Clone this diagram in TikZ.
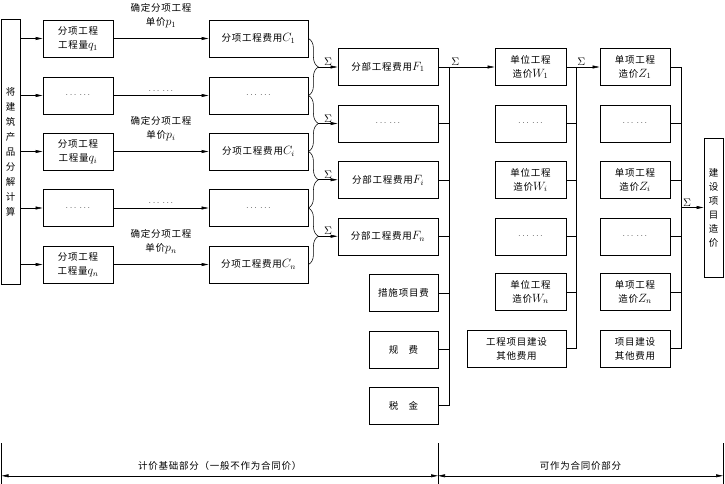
\documentclass[tikz,border=0pt]{standalone}
\usepackage{fontspec}
\setmainfont{Noto Sans CJK SC}[LetterSpace=8]
\usetikzlibrary{arrows.meta,decorations.pathreplacing,calc}
\newcommand{\mv}[1]{{\fontsize{12}{14}\selectfont$#1$}}
\newcommand{\dts}{$\ldots\,\ldots$}
\begin{document}
\begin{tikzpicture}[x=1pt,y=-1pt,
  txt/.style={font=\fontsize{9.5}{14}\selectfont, align=center, inner sep=1pt},
  box/.style={txt, draw, line width=0.9pt, inner sep=0pt, minimum height=37pt},
  vbox/.style={box, font=\fontsize{9.5}{15}\selectfont},
  ln/.style={line width=0.55pt},
  arr/.style={ln, -{Triangle[length=7pt,width=3pt]}},
  dimarr/.style={ln, {Triangle[length=7pt,width=3pt]}-{Triangle[length=7pt,width=3pt]}},
  sig/.style={font=\fontsize{11}{12}\selectfont, inner sep=1pt},
  brc/.style={ln, decorate, decoration={brace, amplitude=10pt}}]
\useasboundingbox (0,0) rectangle (725,484);

% left box
\node[vbox, minimum width=19pt, minimum height=265pt] (L) at (10.5,151.5) {将\\建\\筑\\产\\品\\分\\解\\计\\算};

% q boxes
\node[box, minimum width=70pt] (q1) at (78,38.5) {分项工程\\工程量\mv{q_1}};
\node[box, minimum width=70pt] (q2) at (78,95.5) {\dts};
\node[box, minimum width=70pt] (q3) at (78,151.5) {分项工程\\工程量\mv{q_i}};
\node[box, minimum width=70pt] (q4) at (78,208) {\dts};
\node[box, minimum width=70pt] (q5) at (78,264.5) {分项工程\\工程量\mv{q_n}};

% C boxes
\node[box, minimum width=99pt] (C1) at (258.5,38.5) {分项工程费用\mv{C_1}};
\node[box, minimum width=99pt] (C2) at (258.5,95.5) {\dts};
\node[box, minimum width=99pt] (C3) at (258.5,151.5) {分项工程费用\mv{C_i}};
\node[box, minimum width=99pt] (C4) at (258.5,208) {\dts};
\node[box, minimum width=99pt] (C5) at (258.5,264.5) {分项工程费用\mv{C_n}};

% F boxes
\node[box, minimum width=100pt] (F1) at (388,67) {分部工程费用\mv{F_1}};
\node[box, minimum width=100pt] (F2) at (388,123.5) {\dts};
\node[box, minimum width=100pt] (F3) at (388,180) {分部工程费用\mv{F_i}};
\node[box, minimum width=100pt] (F4) at (388,236.5) {分部工程费用\mv{F_n}};
\node[box, minimum width=69pt] (M1) at (403.5,293) {措施项目费};
\node[box, minimum width=69pt] (M2) at (403.5,349.5) {规\hspace{1.1em}费};
\node[box, minimum width=69pt] (M3) at (403.5,405.5) {税\hspace{1.1em}金};

% W boxes
\node[box, minimum width=71pt] (W1) at (530.5,67) {单位工程\\造价\mv{W_1}};
\node[box, minimum width=71pt] (W2) at (530.5,123.5) {\dts};
\node[box, minimum width=71pt] (W3) at (530.5,180) {单位工程\\造价\mv{W_i}};
\node[box, minimum width=71pt] (W4) at (530.5,236.5) {\dts};
\node[box, minimum width=71pt] (W5) at (530.5,292) {单位工程\\造价\mv{W_n}};
\node[box, minimum width=99pt] (WO) at (516.5,348.5) {工程项目建设\\其他费用};

% Z boxes
\node[box, minimum width=70pt] (Z1) at (635,67) {单项工程\\造价\mv{Z_1}};
\node[box, minimum width=70pt] (Z2) at (635,123.5) {\dts};
\node[box, minimum width=70pt] (Z3) at (635,180) {单项工程\\造价\mv{Z_i}};
\node[box, minimum width=70pt] (Z4) at (635,236.5) {\dts};
\node[box, minimum width=70pt] (Z5) at (635,292) {单项工程\\造价\mv{Z_n}};
\node[box, minimum width=70pt] (ZO) at (635,348.5) {项目建设\\其他费用};

% right box
\node[vbox, font=\fontsize{9.5}{14}\selectfont, minimum width=19pt, minimum height=139pt] (R) at (713.5,207.5) {建\\设\\项\\目\\造\\价};

% left -> q
\foreach \i in {1,...,5} \draw[arr] (q\i.west -| L.east) -- (q\i.west);

% q -> C
\draw[arr] (q1) -- (C1) node[txt, midway, above=9pt] {确定分项工程\\单价\mv{p_1}};
\draw[arr] (q2) -- (C2) node[txt, midway, above=3pt] {\dts};
\draw[arr] (q3) -- (C3) node[txt, midway, above=9pt] {确定分项工程\\单价\mv{p_i}};
\draw[arr] (q4) -- (C4) node[txt, midway, above=3pt] {\dts};
\draw[arr] (q5) -- (C5) node[txt, midway, above=9pt] {确定分项工程\\单价\mv{p_n}};

% braces C -> F
\foreach \a/\b/\f in {1/2/1, 2/3/2, 3/4/3, 4/5/4} {
  \draw[brc] (C\a.east) -- (C\b.east);
  \coordinate (t\f) at ($($(C\a.east)!0.5!(C\b.east)$)+(10,0)$);
  \draw[arr] (t\f) -- (t\f -| F\f.west) node[sig, midway, above] {$\Sigma$};
}

% bus 1
\coordinate (b1) at ($(F1.east)+(11,0)$);
\draw[arr] (F1.east) -- (W1.west) node[sig, pos=0.3, above] {$\Sigma$};
\draw[ln] (b1) |- (M3.east);
\foreach \n in {F2,F3,F4,M1,M2} \draw[ln] (\n.east) -- (\n.east -| b1);

% bus 2
\coordinate (b2) at ($(W1.east)+(10,0)$);
\draw[arr] (W1.east) -- (Z1.west) node[sig, pos=0.45, above] {$\Sigma$};
\draw[ln] (b2) |- (WO.east);
\foreach \n in {W2,W3,W4,W5} \draw[ln] (\n.east) -- (\n.east -| b2);

% bus 3
\coordinate (b3) at ($(Z1.east)+(11,0)$);
\draw[ln] (Z1.east) -- (b3) |- (ZO.east);
\foreach \n in {Z2,Z3,Z4,Z5} \draw[ln] (\n.east) -- (\n.east -| b3);
\draw[arr] (b3 |- R.west) -- (R.west) node[sig, pos=0.25, above] {$\Sigma$};

% bottom dimension
\coordinate (d0) at (1.5,443);
\coordinate (d1) at (438,443);
\coordinate (d2) at (723,443);
\coordinate (e0) at (1.5,484);
\coordinate (e1) at (438,484);
\coordinate (e2) at (723,484);
\draw[ln] (d0) -- (e0);
\draw[ln] (d1) -- (e1);
\draw[ln] (d2) -- (e2);
\draw[dimarr] ($(d0)!0.8!(e0)$) -- ($(d1)!0.8!(e1)$) node[txt, midway, above=4pt] {计价基础部分（一般不作为合同价）};
\draw[dimarr] ($(d1)!0.8!(e1)$) -- ($(d2)!0.8!(e2)$) node[txt, midway, above=4pt] {可作为合同价部分};
\end{tikzpicture}
\end{document}
